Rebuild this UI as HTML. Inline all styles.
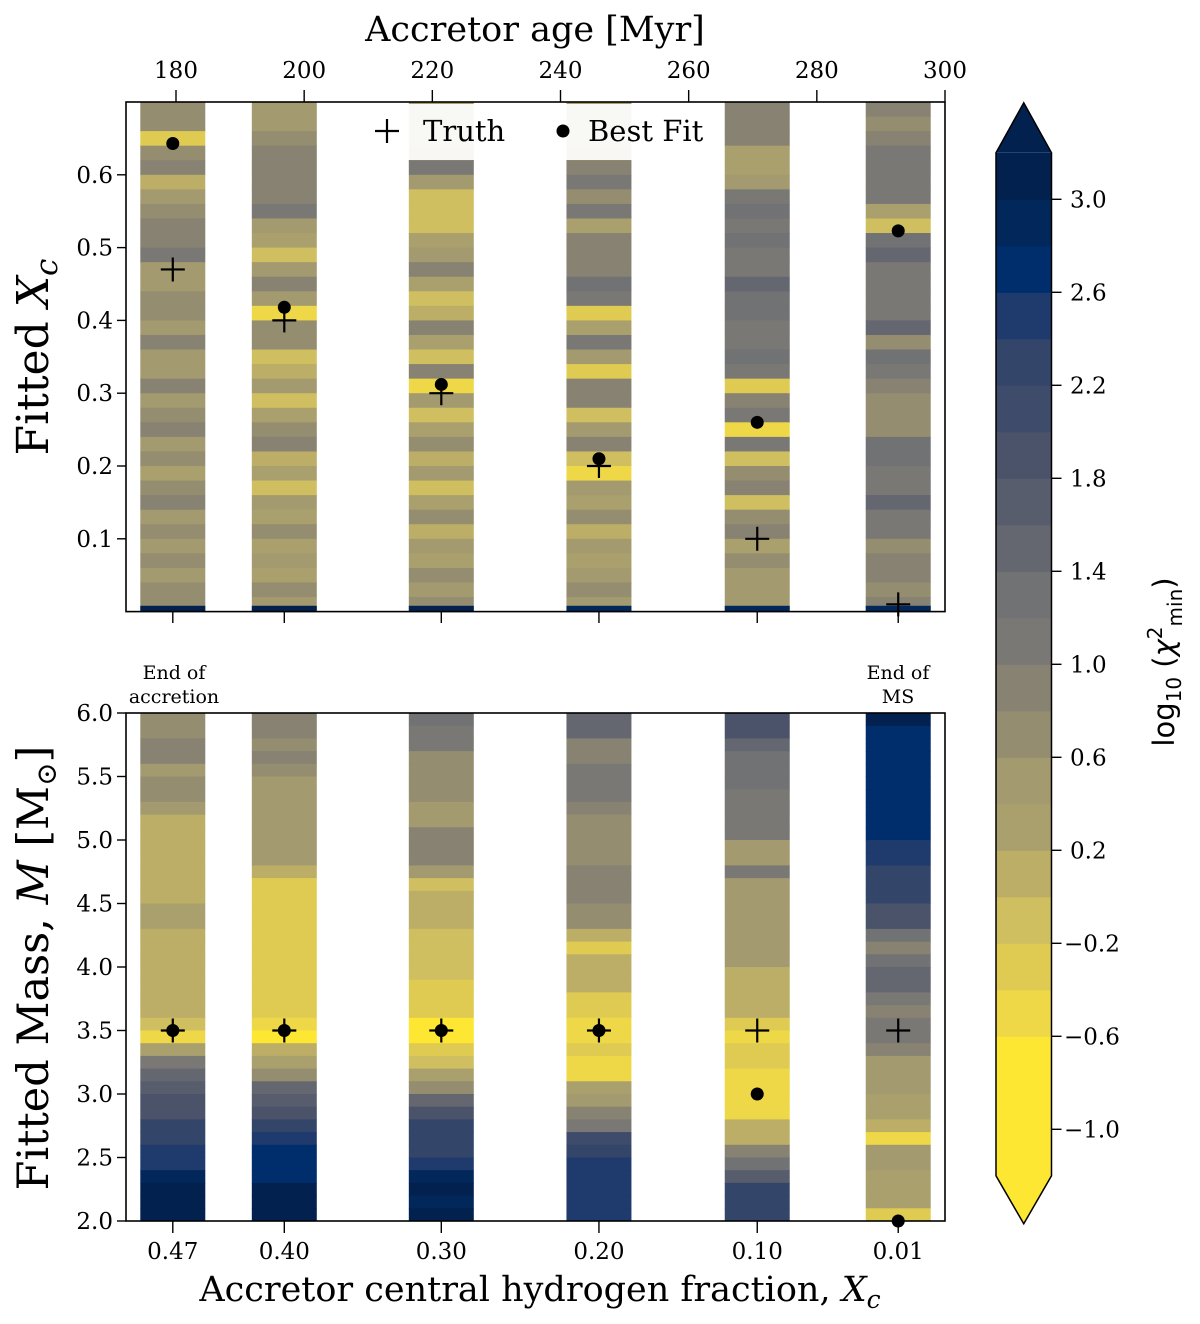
<!DOCTYPE html>
<html><head><meta charset="utf-8"><style>
html,body{margin:0;padding:0;background:#fff;overflow:hidden;}
svg{display:block;font-family:"DejaVu Serif","Liberation Serif",serif;}
</style></head><body>
<svg id="fig" width="1200" height="1324" viewBox="0 0 1200 1324" xmlns="http://www.w3.org/2000/svg">
<g id="top-strips"></g>
<g id="bot-strips"></g>
<g id="cbar"></g>
<g id="axes"></g>
<g id="marks"></g>
<text x="535" y="41" font-size="35" text-anchor="middle">Accretor age [Myr]</text>
<text x="540" y="1301" font-size="35" text-anchor="middle">Accretor central hydrogen fraction, <tspan font-style="italic">X</tspan><tspan font-style="italic" font-size="25" dy="7">c</tspan></text>
<text transform="translate(48,357) rotate(-90)" font-size="44" text-anchor="middle">Fitted <tspan font-style="italic">X</tspan><tspan font-style="italic" font-size="31" dy="9">c</tspan></text>
<text transform="translate(48,968) rotate(-90)" font-size="43" text-anchor="middle">Fitted Mass, <tspan font-style="italic">M</tspan> [M<tspan font-size="28" dy="8">⊙</tspan><tspan dy="-8">]</tspan></text>
<text transform="translate(1174,662) rotate(-90)" font-size="29" text-anchor="middle" font-family="DejaVu Sans, sans-serif">log<tspan font-size="20" dy="7">10</tspan><tspan dy="-7"> (</tspan><tspan font-style="italic">χ</tspan><tspan font-size="20" dy="-12">2</tspan><tspan font-size="20" dy="20">min</tspan><tspan dy="-8">)</tspan></text>
<g font-size="19" text-anchor="middle">
<text x="174" y="679">End of</text><text x="174" y="703">accretion</text></g>
<g font-size="19" text-anchor="middle">
<text x="898" y="679">End of</text><text x="898" y="703">MS</text></g>
</svg>
<script>
// ---------- data ----------
const ages = [179.5, 196.9, 221.4, 246.0, 270.7, 292.7];
const xcLabels = ["0.47","0.40","0.30","0.20","0.10","0.01"];
const ageTicks = [180,200,220,240,260,280,300];
const xcTicks = [0.1,0.2,0.3,0.4,0.5,0.6];
const massTicks = [2.0,2.5,3.0,3.5,4.0,4.5,5.0,5.5,6.0];
const cbTicks = [-1.0,-0.6,-0.2,0.2,0.6,1.0,1.4,1.8,2.2,2.6,3.0];
const truthXc = [0.47,0.40,0.30,0.20,0.10,0.01];
const bestXc = [0.643,0.418,0.312,0.21,0.26,0.523];
const truthM = [3.5,3.5,3.5,3.5,3.5,3.5];
const bestM = [3.5,3.5,3.5,3.5,3.0,2.0];
const topFloor = [3.0,3.0,3.0,2.8,2.8,2.8];
// colour of each 0.2-wide level band, from -1.2 upward
const bandColors = ["#fde733","#fde733","#fde733","#efd848","#dfcb52","#cfbf60","#bcae66","#aaa06e","#a39a70","#948d6f","#888272","#7a7875","#717274","#646670","#585d6d","#4b536b","#3f4b6b","#34456a","#1f3a6c","#002d6c","#02275a","#02214f"];
// top grid: 35 rows, Xc from 0.70 down in steps of 0.02 (row 0 = top)
const top1 = [0.7,0.6,-0.3,0.6,0.9,0.1,0.4,0.6,0.8,0.9,1.0,0.5,0.4,0.7,0.6,0.4,0.9,0.5,0.4,0.8,0.4,0.6,0.9,0.4,0.7,0.3,0.6,0.8,0.4,0.6,0.5,0.7,0.5,0.7,0.6];
const top2 = [0.4,0.5,0.6,0.8,0.8,0.8,0.8,1.0,0.4,0.3,-0.1,0.4,0.9,0.4,-0.5,0.7,0.7,-0.1,0.0,0.5,-0.1,0.3,0.6,0.9,0.0,0.3,-0.1,0.5,0.3,0.7,0.2,0.5,0.2,0.6,0.5];
const top3 = [0.2,0.2,0.3,0.5,1.0,0.5,-0.1,-0.1,-0.1,0.3,0.4,0.9,0.3,-0.1,0.0,0.8,0.3,-0.1,0.9,-0.6,0.5,-0.2,0.3,0.7,0.0,0.5,-0.1,0.2,0.6,0.1,0.4,0.3,0.6,0.4,0.7];
const top4 = [0.3,0.3,0.3,0.4,0.9,1.1,0.6,1.0,0.3,0.9,0.9,0.9,1.2,1.1,-0.4,0.3,1.0,0.4,-0.3,0.8,0.9,-0.2,0.5,0.9,-0.1,-0.5,0.4,0.2,0.6,0.0,0.5,0.2,0.5,0.6,0.5];
const top5 = [0.9,0.8,0.8,0.2,0.3,0.4,1.0,1.2,1.0,1.2,1.1,1.1,1.4,1.2,1.3,1.1,1.0,1.2,1.1,-0.3,0.9,1.1,-0.5,1.1,-0.2,0.6,0.9,-0.1,0.6,0.8,0.3,0.6,0.4,0.5,0.4];
const top6 = [0.8,0.7,0.8,1.0,1.1,1.0,1.1,0.2,-0.1,1.3,1.5,1.0,1.1,1.0,1.1,1.4,0.6,1.3,1.1,0.9,0.6,0.6,0.7,1.3,1.3,1.0,1.1,1.4,1.1,1.0,0.7,0.8,0.8,0.7,0.8];
// bottom grid: 40 rows, mass from 6.0 down in steps of 0.1 (row 0 = top)
const bot1 = [0.7,0.7,0.8,0.8,0.5,0.75,0.75,0.5,0.15,0.15,0.15,0.15,0.15,0.15,0.15,0.3,0.3,0.05,0.05,0.05,0.05,0.15,0.15,0.15,-0.2,-0.5,0.3,1.0,1.4,1.6,1.9,1.9,2.2,2.3,2.5,2.5,2.8,3.1,3.0,3.1];
const bot2 = [0.8,0.8,0.6,0.8,0.6,0.5,0.5,0.5,0.5,0.4,0.4,0.4,0.0,-0.3,-0.3,-0.3,-0.3,-0.3,-0.3,-0.3,-0.3,-0.3,-0.3,-0.3,-0.6,-0.7,0.1,0.2,0.6,1.4,1.6,1.9,2.2,2.4,2.7,2.7,2.7,3.1,3.1,3.1];
const bot3 = [1.2,1.0,1.1,0.7,0.7,0.7,0.7,0.5,0.5,0.8,0.8,0.8,0.5,-0.1,0.1,0.1,0.1,-0.2,-0.2,-0.2,-0.2,-0.4,-0.4,-0.3,-0.8,-0.8,-0.3,-0.2,0.3,0.6,1.4,1.8,2.2,2.2,2.2,2.4,2.9,3.1,2.8,3.1];
const bot4 = [1.4,1.4,0.8,0.8,1.1,1.1,1.1,0.8,0.6,0.6,0.6,0.6,0.8,0.8,0.8,0.6,0.6,0.1,-0.3,0.1,0.1,0.1,-0.3,-0.3,-0.5,-0.5,-0.3,-0.5,-0.5,0.3,0.5,0.9,1.0,2.0,2.2,2.5,2.5,2.5,2.5,2.5];
const bot5 = [1.8,1.8,1.5,1.3,1.3,1.3,1.1,1.1,1.1,1.1,0.5,0.5,1.0,0.5,0.5,0.5,0.5,0.5,0.5,0.5,0.1,0.1,0.1,0.1,-0.3,-0.5,-0.3,-0.4,-0.5,-0.5,-0.5,-0.5,0.0,0.1,0.9,1.2,1.7,2.2,2.2,2.3];
const bot6 = [3.0,2.7,2.7,2.7,2.7,2.7,2.7,2.7,2.7,2.7,2.4,2.4,2.2,2.2,2.2,1.9,1.8,1.2,0.8,1.3,1.5,1.4,1.0,0.9,1.1,1.1,0.9,0.5,0.4,0.4,0.3,0.3,0.1,-0.5,0.4,0.5,0.2,0.2,0.2,-0.4];
const topRows = [top1,top2,top3,top4,top5,top6];
const botRows = [bot1,bot2,bot3,bot4,bot5,bot6];

// ---------- scales ----------
const NS = "http://www.w3.org/2000/svg";
const L = 126, R = 945;
const x = a => 176 + (a - 180) * (769 / 120);
const yTop = v => 611.6 - v * 728;
const yBot = m => 713 + (6 - m) * 127;
const yCb = v => 199.3 + (3.0 - v) * 232.5;
const halfW = 5.07;
const VMIN = -1.2, VMAX = 3.2, STEP = 0.2;
function color(v){
  let band=Math.floor((v-VMIN)/STEP+1e-9);
  band=Math.max(0,Math.min(bandColors.length-1,band));
  return bandColors[band];
}
function el(tag, attrs, parent){ const e=document.createElementNS(NS,tag); for(const k in attrs) e.setAttribute(k,attrs[k]); parent.appendChild(e); return e; }

// ---------- heatmaps ----------
const gT=document.getElementById("top-strips"), gB=document.getElementById("bot-strips");
ages.forEach((a,s)=>{
  const x0=x(a-halfW), x1=x(a+halfW);
  topRows[s].forEach((v,j)=>{
    const hiX=0.70-0.02*j, loX=hiX-0.02;
    const r=el("rect",{x:x0,y:yTop(hiX),width:x1-x0,height:yTop(loX)-yTop(hiX)+0.5,fill:color(v)},gT);
    
    
  });
  const f=el("rect",{x:x0,y:yTop(0.008),width:x1-x0,height:yTop(0)-yTop(0.008),fill:color(topFloor[s])},gT);
  
  
  botRows[s].forEach((v,j)=>{
    const hiM=6.0-0.1*j, loM=hiM-0.1;
    const r=el("rect",{x:x0,y:yBot(hiM),width:x1-x0,height:yBot(loM)-yBot(hiM)+0.5,fill:color(v)},gB);
    
    
  });
});

// ---------- axes ----------
const gA=document.getElementById("axes");
const lg=el("rect",{x:368,y:104,width:350,height:56,fill:"#ffffff","fill-opacity":0.92},gA);


el("rect",{x:L,y:102,width:R-L,height:509.6,fill:"none",stroke:"#000","stroke-width":1.6},gA);
el("rect",{x:L,y:713,width:R-L,height:508,fill:"none",stroke:"#000","stroke-width":1.6},gA);
xcTicks.forEach(v=>{
  const y=yTop(v);
  el("line",{x1:L-9,x2:L,y1:y,y2:y,stroke:"#000","stroke-width":1.4},gA);
  const t=el("text",{x:L-13,y:y+8,"font-size":23,"text-anchor":"end"},gA); t.textContent=v.toFixed(1);
  
});
massTicks.forEach(v=>{
  const y=yBot(v);
  el("line",{x1:L-9,x2:L,y1:y,y2:y,stroke:"#000","stroke-width":1.4},gA);
  const t=el("text",{x:L-13,y:y+8,"font-size":23,"text-anchor":"end"},gA); t.textContent=v.toFixed(1);
  
});
ageTicks.forEach(a=>{
  const xx=x(a);
  el("line",{x1:xx,x2:xx,y1:90,y2:102,stroke:"#000","stroke-width":1.4},gA);
  const t=el("text",{x:xx,y:78,"font-size":23,"text-anchor":"middle"},gA); t.textContent=String(a);
  
});
ages.forEach((a,i)=>{
  const xx=x(a);
  el("line",{x1:xx,x2:xx,y1:611.6,y2:623,stroke:"#000","stroke-width":1.4},gA);
  el("line",{x1:xx,x2:xx,y1:1221,y2:1233,stroke:"#000","stroke-width":1.4},gA);
  const t=el("text",{x:xx,y:1259,"font-size":23,"text-anchor":"middle"},gA); t.textContent=xcLabels[i];
  
});

// ---------- markers ----------
const gM=document.getElementById("marks");
function plus(cx,cy,name){
  const p=el("path",{d:`M${cx-12},${cy}H${cx+12}M${cx},${cy-12}V${cy+12}`,stroke:"#000","stroke-width":2.2,fill:"none"},gM);
  
  
}
function dot(cx,cy,name){
  const c=el("circle",{cx:cx,cy:cy,r:6.5,fill:"#000"},gM);
  
  
}
ages.forEach((a,i)=>{
  plus(x(a),yTop(truthXc[i]),'truth-xc-marker');
  dot(x(a),yTop(bestXc[i]),'bestfit-xc-marker');
  plus(x(a),yBot(truthM[i]),'truth-mass-marker');
  dot(x(a),yBot(bestM[i]),'bestfit-mass-marker');
});
plus(387,131,'legend-truth-marker');
const lt=el("text",{x:423,y:141,"font-size":29},gM); lt.textContent="Truth";

dot(563,131,'legend-bestfit-marker');
const lb=el("text",{x:588,y:141,"font-size":29},gM); lb.textContent="Best Fit";


// ---------- colorbar ----------
const gC=document.getElementById("cbar");
const cx0=996, cx1=1051.5;
bandColors.forEach((c,b)=>{
  const lo=VMIN+STEP*b, hi=lo+STEP;
  const r=el("rect",{x:cx0,y:yCb(hi),width:cx1-cx0,height:yCb(lo)-yCb(hi)+0.5,fill:c},gC);
  
  
});
const tTop=yCb(VMAX), tBot=yCb(VMIN);
el("path",{d:`M${cx0},${tTop}L${(cx0+cx1)/2},${tTop-50}L${cx1},${tTop}Z`,fill:color(VMAX+1)},gC);
el("path",{d:`M${cx0},${tBot}L${(cx0+cx1)/2},${tBot+48}L${cx1},${tBot}Z`,fill:color(VMIN-1)},gC);
el("path",{d:`M${cx0},${tTop}L${(cx0+cx1)/2},${tTop-50}L${cx1},${tTop}V${tBot}L${(cx0+cx1)/2},${tBot+48}L${cx0},${tBot}Z`,fill:"none",stroke:"#000","stroke-width":1.5},gC);
cbTicks.forEach(v=>{
  const y=yCb(v);
  el("line",{x1:cx1,x2:cx1+10,y1:y,y2:y,stroke:"#000","stroke-width":1.4},gC);
  const t=el("text",{x:v<0?1064:1070,y:y+8,"font-size":23},gC);
  t.textContent=(v<0?"\u2212":"")+Math.abs(v).toFixed(1);
  
});
</script>
</body></html>
